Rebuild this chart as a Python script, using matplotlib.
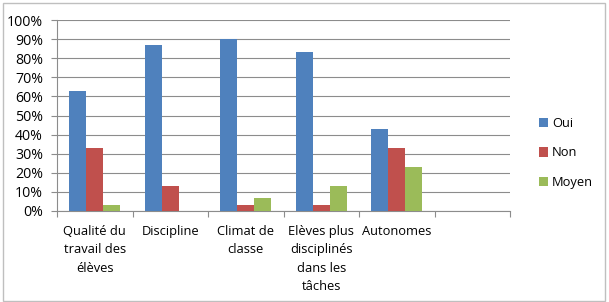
import matplotlib
matplotlib.use("Agg")
import matplotlib.pyplot as plt
import numpy as np
from matplotlib.patches import Rectangle

categories = ["Qualité du\ntravail des\nélèves", "Discipline", "Climat de\nclasse",
              "Elèves plus\ndisciplinés\ndans les\ntâches", "Autonomes", ""]
oui = [0.63, 0.87, 0.90, 0.83, 0.43, None]
non = [0.33, 0.13, 0.03, 0.03, 0.33, None]
moyen = [0.03, 0.00, 0.07, 0.13, 0.23, None]
series_names = ["Oui", "Non", "Moyen"]
colors = ["#4F81BD", "#C0504D", "#9BBB59"]
yticks = [0, 0.1, 0.2, 0.3, 0.4, 0.5, 0.6, 0.7, 0.8, 0.9, 1.0]

plt.rcParams['font.family'] = ['Open Sans', 'DejaVu Sans']
fs = 9.3

fig = plt.figure(figsize=(6.09, 3.02), dpi=100)
fig.patches.append(Rectangle((3/609, 1/302), 602/609, 298/302, transform=fig.transFigure,
                             fill=False, edgecolor="#BFBFBF", linewidth=1))
ax = fig.add_axes([57/609, 1 - 211/302, (510-57)/609, (211-20)/302])

n = len(categories)
x = np.arange(n)
bw = 0.225
for i, (vals, name, c) in enumerate(zip([oui, non, moyen], series_names, colors)):
    xs = [xi + (i - 1) * bw for xi, v in zip(x, vals) if v is not None]
    vs = [v for v in vals if v is not None]
    ax.bar(xs, vs, width=bw, color=c, label=name, zorder=3)

ax.set_xlim(-0.5, n - 0.5)
ax.set_ylim(0, 1.0)
ax.set_yticks(yticks)
ax.set_yticklabels([f"{int(round(t*100))}%" for t in yticks], fontsize=10.2)
ax.yaxis.grid(True, color="#8C8C8C", linewidth=0.8, zorder=0)
ax.set_xticks(np.arange(-0.5, n, 1.0))
ax.set_xticklabels([])
ax.set_xticks(x, minor=True)
ax.set_xticklabels(categories, minor=True, fontsize=fs, linespacing=1.55)
ax.tick_params(axis='x', which='minor', length=0, pad=10)
ax.tick_params(axis='x', which='major', length=4, color="#8C8C8C", direction='out')
ax.tick_params(axis='y', length=4, color="#8C8C8C", direction='out', pad=6)
for s in ["top", "right"]:
    ax.spines[s].set_visible(False)
for s in ["left", "bottom"]:
    ax.spines[s].set_color("#8C8C8C")
    ax.spines[s].set_linewidth(0.8)
for lbl in ax.get_xticklabels(minor=True):
    lbl.set_verticalalignment('top')
    lbl.set_multialignment('center')

leg = ax.legend(loc='center left', bbox_to_anchor=(527/609, 1 - 153/302),
                bbox_transform=fig.transFigure, frameon=False, fontsize=fs,
                handlelength=0.7, handleheight=0.7, handletextpad=0.35, labelspacing=1.25)

fig.savefig("out.png", dpi=100)
